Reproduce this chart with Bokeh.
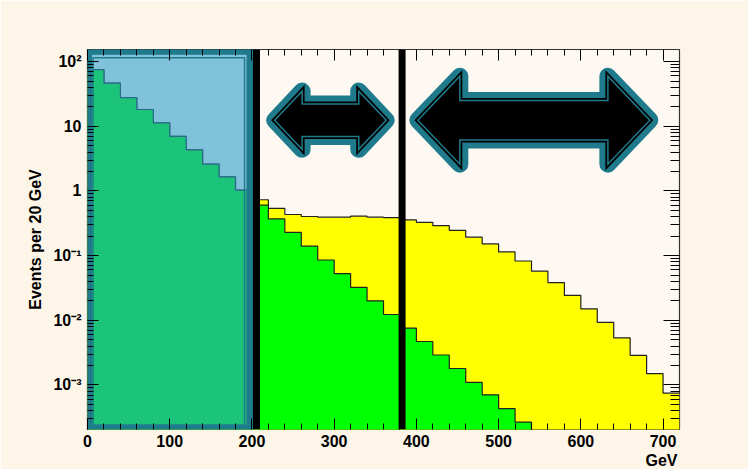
import numpy as np
from bokeh.plotting import figure
from bokeh.models import (FixedTicker, LogAxis, LinearAxis, Span, Title, Range1d,
                          CustomJSTickFormatter)
from bokeh.embed import file_html
from bokeh.resources import INLINE

# ---------------- data ----------------
bin_edges = list(range(0, 740, 20))          # GeV, 20 GeV bins (36 bins)

green_events = [75, 46.5, 27.7, 18.2, 11.3, 6.98, 4.32, 2.61, 1.65, 1.03,
                0.604, 0.369, 0.229, 0.140, 0.0857, 0.0529, 0.0324, 0.0200, 0.0123,
                0.00758, 0.0047, 0.00291, 0.0018, 0.0011, 0.000705, 0.000432, 0.000267,
                0, 0, 0, 0, 0, 0, 0, 0, 0]

yellow_events = [75, 46.5, 27.7, 18.2, 11.3, 6.98, 4.32, 2.61, 1.65, 1.03,
                 0.731, 0.537, 0.433, 0.403, 0.393, 0.393, 0.407, 0.393, 0.388,
                 0.357, 0.328, 0.291, 0.246, 0.193, 0.152, 0.114, 0.0826, 0.0576,
                 0.0383, 0.0243, 0.0150, 0.00930, 0.00537, 0.00287, 0.00150, 0.00075]

x_major_ticks = [0, 100, 200, 300, 400, 500, 600, 700]
y_major_ticks = [1e-3, 1e-2, 1e-1, 1, 10, 100]
y_tick_labels = ["10\u207b\u00b3", "10\u207b\u00b2", "10\u207b\u00b9", "1", "10", "10\u00b2"]

cut_lines = [205.5, 382.6]                    # GeV, black vertical cut lines

# ---------------- style ----------------
TEAL = "#1f7a8c"
OVERLAY = "#2e9ccc"
FONT = "Liberation Sans"
Y_MIN, Y_MAX = 2.05e-4, 154
FLOOR = 1e-7

p = figure(width=748, height=469, x_range=Range1d(0, 720), y_range=Range1d(Y_MIN, Y_MAX),
           y_axis_type="log", output_backend="svg", toolbar_location=None,
           min_border_left=87, min_border_right=69, min_border_top=49, min_border_bottom=40)
p.background_fill_color = "#fdf9f2"
p.border_fill_color = "#fcf5e8"
p.outline_line_color = "#333333"
p.outline_line_width = 1.2
p.grid.visible = False


def floor(vals):
    return [v if v > 0 else FLOOR for v in vals]


def step_path(vals):
    v = floor(vals)
    return bin_edges, v + [v[-1]]


# yellow histogram
sx, sy = step_path(yellow_events)
p.varea_step(x=sx, y1=[FLOOR] * len(sx), y2=sy, step_mode="after", fill_color="#ffff00")
p.step(x=sx, y=sy, mode="after", line_color="#222222", line_width=1.2)

# green histogram
sx, sy = step_path(green_events)
p.varea_step(x=sx, y1=[FLOOR] * len(sx), y2=sy, step_mode="after", fill_color="#00ff00")
p.step(x=sx, y=sy, mode="after", line_color="#222222", line_width=1.2)

# translucent highlight box over the low-mass region
p.quad(left=1.2, right=197.6, bottom=2.1e-4, top=145, fill_color=OVERLAY, fill_alpha=0.6,
       line_color=TEAL, line_width=7, line_join="round")
p.quad(left=6.7, right=191, bottom=2.4e-4, top=115, fill_color=None,
       line_color=TEAL, line_width=1.5)


# double-headed arrows (x in GeV, y in decades)
def arrow_poly(x0, x1, head, yc, hh, sh):
    xs = [x0, x0 + head, x0 + head, x1 - head, x1 - head, x1,
          x1 - head, x1 - head, x0 + head, x0 + head]
    yl = [yc, yc + hh, yc + sh, yc + sh, yc + hh, yc,
          yc - hh, yc - sh, yc - sh, yc - hh]
    return xs, [10 ** y for y in yl]


arrows = [(227.6, 363.3, 33.4, 1.094, 0.45, 0.25),
          (401.8, 683.9, 51.0, 1.094, 0.68, 0.305)]
for a in arrows:
    xs, ys = arrow_poly(*a)
    p.patch(xs, ys, fill_color=None, line_color=TEAL, line_width=17, line_join="round")
    p.patch(xs, ys, fill_color="black", line_color="black", line_width=5, line_join="miter")
    p.patch(xs, ys, fill_color=None, line_color=TEAL, line_width=1.5, line_join="miter")

for c in cut_lines:
    p.add_layout(Span(location=c, dimension="height", line_color="black", line_width=7))

# ---------------- axes ----------------
y_minor = [k * 10.0 ** n for n in range(-4, 3) for k in range(2, 10)
           if Y_MIN <= k * 10.0 ** n <= Y_MAX]
x_minor = [v for v in range(20, 720, 20) if v not in x_major_ticks]

yfmt = CustomJSTickFormatter(args=dict(vals=y_major_ticks, labels=y_tick_labels), code="""
for (let i = 0; i < vals.length; i++) {
  if (Math.abs(Math.log10(tick) - Math.log10(vals[i])) < 1e-6) return labels[i];
}
return "";
""")


def style_axis(ax, major_in=11, minor_in=6):
    ax.axis_line_color = None
    ax.major_tick_in = major_in
    ax.major_tick_out = 0
    ax.minor_tick_in = minor_in
    ax.minor_tick_out = 0
    ax.major_tick_line_color = "black"
    ax.minor_tick_line_color = "black"
    ax.major_label_text_font = FONT
    ax.major_label_text_font_style = "bold"
    ax.major_label_text_font_size = "16px"
    ax.major_label_text_color = "black"


xax = p.xaxis[0]
xax.ticker = FixedTicker(ticks=x_major_ticks, minor_ticks=x_minor)
style_axis(xax)
xax.major_label_standoff = 5

yax = p.yaxis[0]
yax.ticker = FixedTicker(ticks=y_major_ticks, minor_ticks=y_minor)
yax.formatter = yfmt
style_axis(yax)
yax.major_label_standoff = 6
yax.axis_label = "Events per 20 GeV"
yax.axis_label_text_font = FONT
yax.axis_label_text_font_style = "bold"
yax.axis_label_text_font_size = "16px"
yax.axis_label_text_color = "black"
yax.axis_label_standoff = 6

top_ax = LinearAxis(ticker=FixedTicker(ticks=x_major_ticks, minor_ticks=x_minor))
style_axis(top_ax)
top_ax.major_label_text_color = None
p.add_layout(top_ax, "above")

right_ax = LogAxis(ticker=FixedTicker(ticks=y_major_ticks, minor_ticks=y_minor))
style_axis(right_ax, major_in=16, minor_in=9)
right_ax.major_label_text_color = None
p.add_layout(right_ax, "right")

# x-axis title, right-aligned under the axis (ROOT style)
p.add_layout(Title(text="GeV", align="right", text_font=FONT, text_font_style="bold",
                   text_font_size="16px", text_color="black", standoff=0, offset=2),
             "below")

open("out.html", "w").write(file_html(p, INLINE))
